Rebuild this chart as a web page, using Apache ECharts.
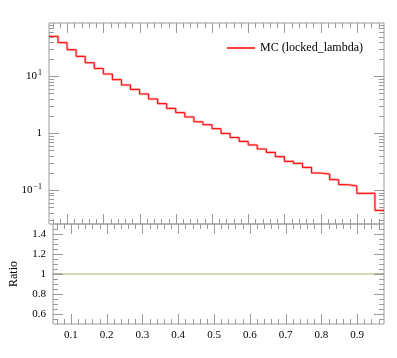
<!DOCTYPE html>
<html><head><meta charset="utf-8">
<script src="https://cdn.jsdelivr.net/npm/echarts@6/dist/echarts.min.js"></script>
<style>html,body{margin:0;padding:0;background:#fff}#c{width:397px;height:358px}</style>
</head><body><div id="c"></div>
<script>
// ---- data ----
const binEdges = [0.05,0.075,0.1,0.125,0.15,0.175,0.2,0.225,0.25,0.275,0.3,0.325,0.35,0.375,0.4,0.425,0.45,0.475,0.5,0.525,0.55,0.575,0.6,0.625,0.65,0.675,0.7,0.725,0.75,0.775,0.8,0.825,0.85,0.875,0.9,0.925,0.95,0.975];
const mcValues = [50.6,39.2,29.5,22.5,17.4,13.8,11.0,8.75,7.06,5.90,4.90,4.00,3.31,2.73,2.30,1.93,1.59,1.41,1.20,0.99,0.84,0.717,0.620,0.527,0.459,0.386,0.319,0.294,0.250,0.199,0.191,0.152,0.124,0.118,0.0873,0.088,0.0437];
const ratioValues = [1,1,1,1,1,1,1,1,1,1,1,1,1,1,1,1,1,1,1,1,1,1,1,1,1,1,1,1,1,1,1,1,1,1,1,1,1];
const seriesName = 'MC (locked_lambda)';
const xTickLabels = [0.1,0.2,0.3,0.4,0.5,0.6,0.7,0.8,0.9];
const xMinorTicks = [0.06,0.08,0.12,0.14,0.16,0.18,0.22,0.24,0.26,0.28,0.32,0.34,0.36,0.38,0.42,0.44,0.46,0.48,0.52,0.54,0.56,0.58,0.62,0.64,0.66,0.68,0.72,0.74,0.76,0.78,0.82,0.84,0.86,0.88,0.92,0.94,0.96];
const yMainTickLabels = [0.1,1,10];
const yMainMinorTicks = [0.03,0.04,0.05,0.06,0.07,0.08,0.09,0.2,0.3,0.4,0.5,0.6,0.7,0.8,0.9,2,3,4,5,6,7,8,9,20,30,40,50,60,70,80];
const yRatioTickLabels = [0.6,0.8,1,1.2,1.4];
const yRatioMinorTicks = [0.55,0.65,0.7,0.75,0.85,0.9,0.95,1.05,1.1,1.15,1.25,1.3,1.35,1.45];

// ---- build ----
function stepData(vals){
  const d = vals.map((v,i)=>[binEdges[i], v]);
  d.push([binEdges[binEdges.length-1], vals[vals.length-1]]);
  return d;
}
const FONT = 'Liberation Serif';
const TICK = '#9a9a9a';
function tickSeries(idx, xMaj, xMin, yMaj, yMin){
  return {
    type:'custom', xAxisIndex:idx, yAxisIndex:idx, silent:true, clip:false, z:5,
    data:[[xMaj[0], yMaj[0]]],
    renderItem(params, api){
      const cs = params.coordSys;
      const L = cs.x, R = cs.x + cs.width, T = cs.y, B = cs.y + cs.height;
      const ch = [];
      const ln = (x1,y1,x2,y2)=>ch.push({type:'line',shape:{x1,y1,x2,y2},style:{stroke:TICK,lineWidth:1}});
      const px = v => Math.round(api.coord([v, yMaj[0]])[0]) + 0.5;
      const py = v => Math.round(api.coord([xMaj[0], v])[1]) + 0.5;
      xMaj.forEach(v=>{const x=px(v); ln(x,T,x,T+10); ln(x,B,x,B-10);});
      xMin.forEach(v=>{const x=px(v); ln(x,T,x,T+5); ln(x,B,x,B-5);});
      yMaj.forEach(v=>{const y=py(v); ln(L,y,L+10,y); ln(R,y,R-10,y);});
      yMin.forEach(v=>{const y=py(v); ln(L,y,L+5,y); ln(R,y,R-5,y);});
      return {type:'group', children:ch};
    }
  };
}
const chart = echarts.init(document.getElementById('c'), null, {renderer:'canvas'});
const option = {
  animation:false,
  backgroundColor:'#fff',
  textStyle:{fontFamily:FONT},
  grid:[
    {left:49, top:23, right:13, height:201, show:true, borderColor:TICK, borderWidth:1, backgroundColor:'transparent'},
    {left:49, top:224, right:13, height:100, show:true, borderColor:TICK, borderWidth:1, backgroundColor:'transparent'}
  ],
  legend:{
    data:[seriesName], left:222, top:37, itemWidth:28, itemHeight:1.5, icon:'rect', itemGap:6,
    textStyle:{fontFamily:FONT, fontSize:12, color:'#000'}
  },
  xAxis:[
    {type:'value', gridIndex:0, min:0.05, max:0.975, axisLine:{show:false}, axisTick:{show:false}, splitLine:{show:false}, axisLabel:{show:false}},
    {type:'value', gridIndex:1, min:0.05, max:0.975, axisLine:{show:false}, axisTick:{show:false}, splitLine:{show:false},
     axisLabel:{show:true, customValues:xTickLabels, margin:6, fontFamily:FONT, fontSize:11, color:'#000', formatter:v=>String(Math.round(v*10)/10)}}
  ],
  yAxis:[
    {type:'log', gridIndex:0, logBase:10, min:0.0252, max:87, axisLine:{show:false}, axisTick:{show:false}, splitLine:{show:false},
     axisLabel:{show:true, customValues:yMainTickLabels, margin:7, fontFamily:FONT, fontSize:11, color:'#000',
       formatter:v=>{const e=Math.round(Math.log10(v)); if(e===0) return '1'; return '10{sup|'+String(e).replace('-','−')+'}';},
       rich:{sup:{fontSize:8, verticalAlign:'top', padding:[0,0,6,1], fontFamily:FONT, color:'#000'}}}},
    {type:'value', gridIndex:1, min:0.5, max:1.5, axisLine:{show:false}, axisTick:{show:false}, splitLine:{show:false},
     name:'Ratio', nameLocation:'middle', nameGap:33, nameRotate:90, nameTextStyle:{fontFamily:FONT, fontSize:12, color:'#000'},
     axisLabel:{show:true, customValues:yRatioTickLabels, margin:7, fontFamily:FONT, fontSize:11, color:'#000', formatter:v=>String(Math.round(v*10)/10)}}
  ],
  visualMap:[{
    type:'piecewise', show:false, seriesIndex:3, dimension:0,
    pieces:[{lt:0.075, color:'#6e6e45'},{gte:0.075, lt:0.95, color:'#aeac70'},{gte:0.95, color:'#6e6e45'}]
  }],
  series:[
    {type:'line', name:'band', xAxisIndex:0, yAxisIndex:0, step:'end', showSymbol:false, symbol:'none', silent:true,
     data:stepData(mcValues), lineStyle:{color:'rgba(255,0,0,0.28)', width:2.6}, z:2},
    {type:'line', name:seriesName, xAxisIndex:0, yAxisIndex:0, step:'end', showSymbol:false, symbol:'none',
     data:stepData(mcValues), lineStyle:{color:'#ff0000', width:1}, itemStyle:{color:'#ff0000'}, z:3},
    tickSeries(0, xTickLabels, xMinorTicks, yMainTickLabels, yMainMinorTicks),
    {type:'line', name:'ratio', xAxisIndex:1, yAxisIndex:1, step:'end', showSymbol:false, symbol:'none',
     data:stepData(ratioValues), lineStyle:{width:1}, z:3},
    tickSeries(1, xTickLabels, xMinorTicks, yRatioTickLabels, yRatioMinorTicks)
  ]
};
chart.setOption(option);
</script></body></html>
